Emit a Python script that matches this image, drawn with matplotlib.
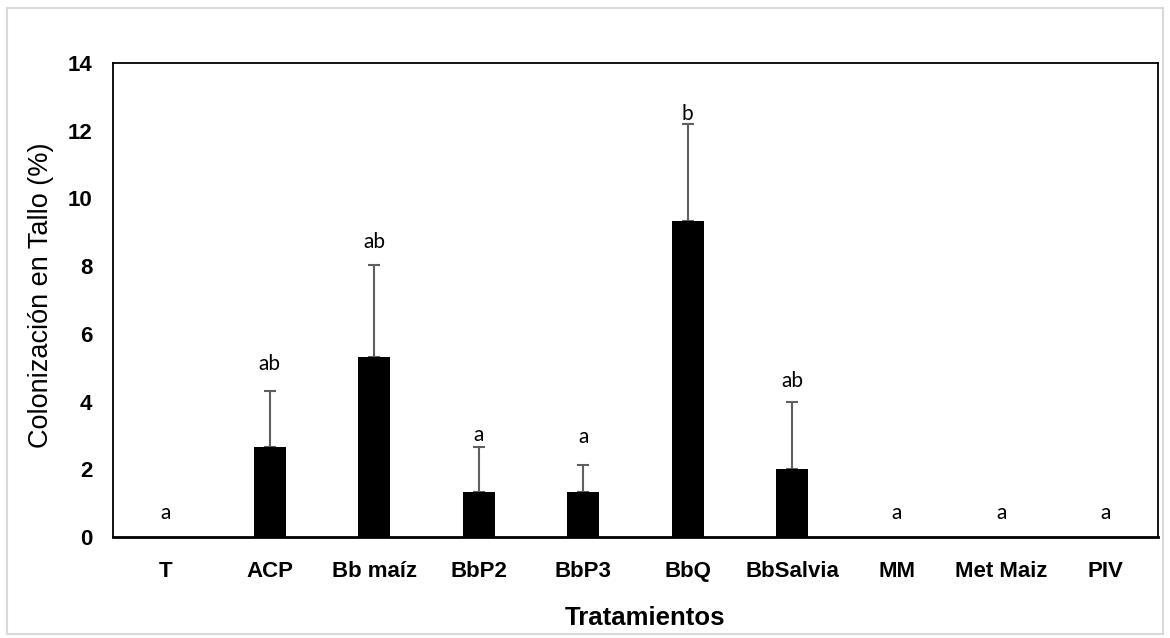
import matplotlib
matplotlib.use("Agg")
import matplotlib.pyplot as plt
from matplotlib.patches import Rectangle

# colonizacion en tallo por tratamiento (media, error estandar y letras de Tukey)
tratamientos = ["T", "ACP", "Bb maíz", "BbP2", "BbP3", "BbQ", "BbSalvia", "MM", "Met Maiz", "PIV"]
colonizacion = [0, 2.67, 5.33, 1.33, 1.33, 9.33, 2.0, 0, 0, 0]
error_sup = [0, 1.63, 2.70, 1.33, 0.81, 2.87, 2.0, 0, 0, 0]
letras = ["a", "ab", "ab", "a", "a", "b", "ab", "a", "a", "a"]
altura_letras = [0.72, 5.1, 8.7, 3.0, 2.95, 12.5, 4.6, 0.72, 0.72, 0.72]

plt.rcParams['font.family'] = ['Liberation Sans', 'DejaVu Sans']

fig = plt.figure(figsize=(11.7, 6.38), dpi=100)
ax = fig.add_axes([0.0966, 0.1583, 0.8931, 0.743])

# borde gris del area del grafico
fig.patches.append(Rectangle((0.006, 0.006), 0.988, 0.982, transform=fig.transFigure,
                             fill=False, edgecolor="#d9d9d9", linewidth=1.5))

x = list(range(len(tratamientos)))
ax.bar(x, colonizacion, width=0.31, color="black", zorder=2)

# solo barras de error donde hay variacion
con_error = [i for i in x if error_sup[i] > 0]
ax.errorbar(con_error, [colonizacion[i] for i in con_error],
            yerr=[[0] * len(con_error), [error_sup[i] for i in con_error]], fmt="none",
            ecolor="#5f5f5f", elinewidth=1.5, capsize=4.5, capthick=1.5, zorder=1)

for xi, letra, h in zip(x, letras, altura_letras):
    ax.text(xi, h, letra, ha="center", va="center", fontsize=15,
            family=["Lato", "DejaVu Sans"], color="black")

ax.set_xlim(-0.5, len(x) - 0.5)
ax.set_ylim(0, 14)
ax.set_yticks(range(0, 15, 2))
ax.set_xticks(x)
ax.set_xticklabels(tratamientos, fontweight="bold", fontsize=16)
for lab in ax.get_yticklabels():
    lab.set_fontweight("bold")
    lab.set_fontsize(16)
ax.tick_params(axis="both", length=0)
ax.tick_params(axis="y", pad=15)
ax.tick_params(axis="x", pad=17)

for s in ax.spines.values():
    s.set_linewidth(1.3)
    s.set_color("black")
ax.spines["bottom"].set_linewidth(2)

fig.text(41 / 1170, 1 - 295 / 638, "Colonización en Tallo (%)", rotation=90,
         ha="center", va="center", fontsize=19.5)
fig.text(645 / 1170, 1 - 618 / 638, "Tratamientos", ha="center", va="center",
         fontsize=18.5, fontweight="bold")

fig.savefig("out.png", dpi=100)
